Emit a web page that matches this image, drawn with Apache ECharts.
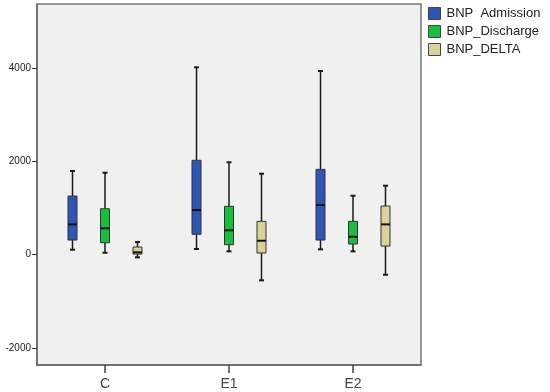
<!DOCTYPE html>
<html>
<head>
<meta charset="utf-8">
<script src="https://cdn.jsdelivr.net/npm/echarts@6/dist/echarts.min.js"></script>
<style>html,body{margin:0;padding:0;background:#fff}#c{width:550px;height:392px}</style>
</head>
<body>
<div id="c"></div>
<script>
var categories = ['C', 'E1', 'E2'];
var seriesNames = ['BNP  Admission', 'BNP_Discharge', 'BNP_DELTA'];
var yTicks = [-2000, 0, 2000, 4000];
// [min, Q1, median, Q3, max] per category
var admission = [
  [108, 316, 653, 1262, 1800],
  [123, 439, 961, 2030, 4029],
  [116, 316, 1069, 1836, 3950]
];
var discharge = [
  [43, 258, 567, 989, 1763],
  [73, 215, 525, 1041, 1987],
  [73, 230, 387, 718, 1269]
];
var delta = [
  [-56, 15, 52, 166, 273],
  [-550, 37, 301, 718, 1742],
  [-430, 187, 653, 1047, 1484]
];
var colors = ['#2e56b6', '#17c03c', '#d9d29b'];
var offsets = [-0.262, 0, 0.262];
var yMin = -2370, yMax = 5390;

function makeSeries(name, data, color, off) {
  return {
    name: name,
    type: 'custom',
    xAxisIndex: 1,
    yAxisIndex: 1,
    itemStyle: { color: color, borderColor: '#333', borderWidth: 1 },
    data: data.map(function (d, i) { return [i].concat(d); }),
    renderItem: function (params, api) {
      var band = api.size([1, 0])[0];
      var cx = api.coord([api.value(0), 0])[0] + off * band;
      var yMn = api.coord([api.value(0), api.value(1)])[1];
      var yQ1 = api.coord([api.value(0), api.value(2)])[1];
      var yMd = api.coord([api.value(0), api.value(3)])[1];
      var yQ3 = api.coord([api.value(0), api.value(4)])[1];
      var yMx = api.coord([api.value(0), api.value(5)])[1];
      var hw = 4.5, cw = 2.5;
      var ls = { stroke: '#1a1a1a', lineWidth: 1.5 };
      return {
        type: 'group',
        children: [
          { type: 'line', shape: { x1: cx, y1: yQ3, x2: cx, y2: yMx }, style: ls },
          { type: 'line', shape: { x1: cx, y1: yQ1, x2: cx, y2: yMn }, style: ls },
          { type: 'line', shape: { x1: cx - cw, y1: yMx, x2: cx + cw, y2: yMx }, style: { stroke: '#1a1a1a', lineWidth: 2 } },
          { type: 'line', shape: { x1: cx - cw, y1: yMn, x2: cx + cw, y2: yMn }, style: { stroke: '#1a1a1a', lineWidth: 2 } },
          { type: 'rect', shape: { x: cx - hw, y: yQ3, width: 2 * hw, height: yQ1 - yQ3 }, style: { fill: color, stroke: '#333', lineWidth: 1 } },
          { type: 'line', shape: { x1: cx - hw, y1: yMd, x2: cx + hw, y2: yMd }, style: { stroke: '#111', lineWidth: 2 } }
        ]
      };
    }
  };
}

var chart = echarts.init(document.getElementById('c'));
chart.setOption({
  animation: false,
  textStyle: { fontFamily: 'Liberation Sans, Arial, sans-serif' },
  grid: [
    { left: 37, right: 129, top: 4, bottom: 27, show: true, backgroundColor: '#f0f0f0', borderColor: '#777', borderWidth: 1.5 },
    { left: 43, right: 135, top: 4, bottom: 27 }
  ],
  legend: {
    orient: 'vertical',
    left: 423,
    top: 2,
    itemWidth: 12,
    itemHeight: 12,
    itemGap: 5,
    icon: 'rect',
    textStyle: { fontSize: 13, color: '#222', padding: [0, 0, 0, 1] },
    itemStyle: { borderColor: '#444', borderWidth: 1 },
    data: seriesNames
  },
  xAxis: [
    { type: 'value', gridIndex: 0, min: 0, max: 1, axisLine: { show: true, onZero: false, lineStyle: { color: '#666', width: 1.5 } }, axisTick: { show: false }, axisLabel: { show: false }, splitLine: { show: false } },
    { type: 'category', gridIndex: 1, data: categories, boundaryGap: true,
      axisLine: { show: false, onZero: false },
      axisTick: { show: true, alignWithLabel: true, length: 8, lineStyle: { color: '#444', width: 1.5 } },
      axisLabel: { fontSize: 14, color: '#444', margin: 12 } }
  ],
  yAxis: [
    { type: 'value', gridIndex: 0, min: yMin, max: yMax,
      axisLine: { show: true, onZero: false, lineStyle: { color: '#666', width: 1.5 } },
      axisTick: { show: true, length: 5, customValues: yTicks, lineStyle: { color: '#333' } },
      axisLabel: { fontSize: 10, color: '#222', margin: 6, customValues: yTicks, formatter: function (v) { return String(v); } },
      splitLine: { show: false } },
    { type: 'value', gridIndex: 1, min: yMin, max: yMax, show: false, splitLine: { show: false } }
  ],
  series: [
    makeSeries(seriesNames[0], admission, colors[0], offsets[0]),
    makeSeries(seriesNames[1], discharge, colors[1], offsets[1]),
    makeSeries(seriesNames[2], delta, colors[2], offsets[2])
  ]
});
</script>
</body>
</html>
